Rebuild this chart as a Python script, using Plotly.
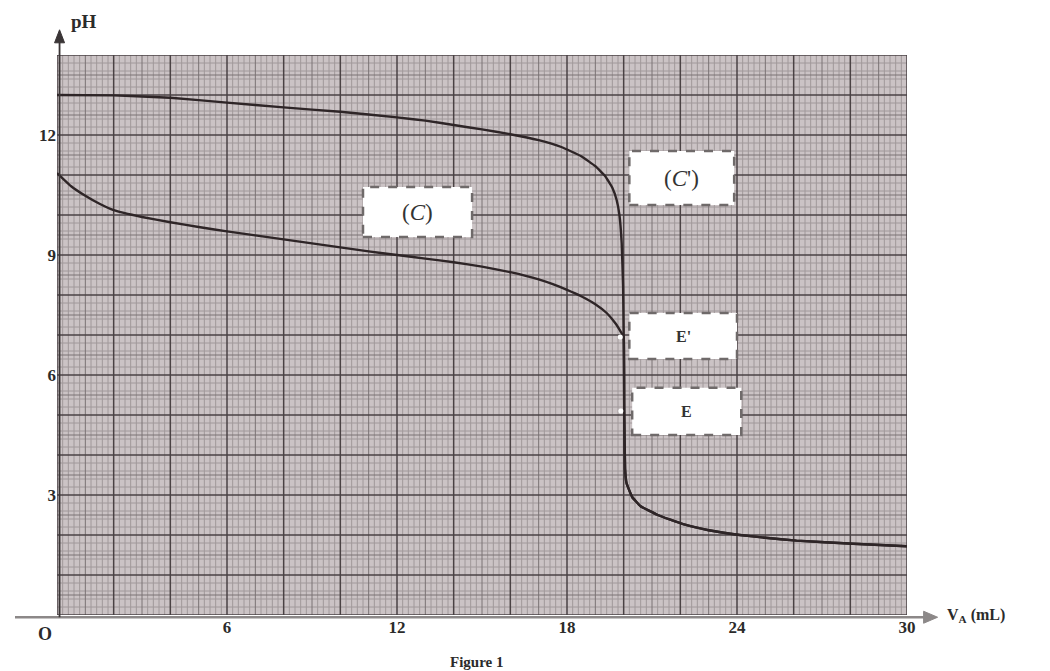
import plotly.graph_objects as go

# ---- data ----
V_C = [0, 0.5, 1.0, 1.5, 2.0, 3.0, 4.0, 5.0, 6.0, 7.0, 8.0, 9.0, 10.0, 11.0, 12.0,
       13.0, 14.0, 15.0, 16.0, 17.0, 17.5, 18.0, 18.5, 19.0, 19.4, 19.7, 19.9, 20.0]
pH_C = [11.05, 10.72, 10.48, 10.28, 10.12, 9.95, 9.82, 9.7, 9.59, 9.49, 9.39, 9.29, 9.19, 9.09, 9.0,
        8.91, 8.82, 8.71, 8.57, 8.39, 8.27, 8.13, 7.97, 7.77, 7.55, 7.3, 7.08, 6.95]

V_Cp = [0, 2.0, 4.0, 6.0, 8.0, 10.0, 12.0, 13.0, 14.0, 15.0, 16.0, 17.0, 17.8, 18.5, 19.0,
        19.35, 19.6, 19.75, 19.85, 19.93, 19.98, 20.0]
pH_Cp = [13.0, 12.99, 12.93, 12.81, 12.69, 12.58, 12.44, 12.36, 12.25, 12.14, 12.02, 11.87, 11.7, 11.47, 11.22,
         10.97, 10.68, 10.38, 10.0, 9.3, 8.2, 6.95]

V_after = [20.0, 20.02, 20.05, 20.1, 20.3, 20.6, 21.2, 22.1, 23.0, 24.1, 25.0, 26.1, 28.1, 30.0]
pH_after = [6.95, 5.1, 3.65, 3.3, 2.95, 2.72, 2.5, 2.27, 2.12, 2.0, 1.93, 1.86, 1.78, 1.72]

E_points_V = [20.0, 20.02]
E_points_pH = [6.95, 5.1]

x_ticks = [6, 12, 18, 24, 30]
y_ticks = [3, 6, 9, 12]

labels = ["(<i>C</i>)", "(<i>C</i>')", "<b>E'</b>", "<b>E</b>"]
label_boxes = [(10.8, 14.65, 9.45, 10.7), (20.2, 23.9, 10.25, 11.6),
               (20.2, 24.0, 6.4, 7.55), (20.3, 24.15, 4.5, 5.68)]
label_sizes = [23, 23, 16, 16]

XMAX, YMAX = 30, 14
PW, PH = 850, 560  # plot area size in pixels (for arrow heads)

fig = go.Figure()


def grid_trace(vals_x, vals_y, color, width):
    xs, ys = [], []
    for v in vals_x:
        xs += [v, v, None]
        ys += [0, YMAX, None]
    for v in vals_y:
        xs += [0, XMAX, None]
        ys += [v, v, None]
    return go.Scatter(x=xs, y=ys, mode="lines", line=dict(color=color, width=width),
                      hoverinfo="skip", showlegend=False)


fine_x = [i * 0.2 for i in range(0, 151) if i % 5 != 0]
fine_y = [i * 0.2 for i in range(0, 71) if i % 5 != 0]
mid_x = [i for i in range(1, 30, 2)]
mid_y = [i + 0.5 for i in range(0, 14)]
maj_x = [i for i in range(0, 31, 2)]
maj_y = [i for i in range(0, 15)]

fig.add_trace(grid_trace(fine_x, fine_y, "#a0989a", 1))
fig.add_trace(grid_trace(mid_x, mid_y, "#7a7274", 1))
fig.add_trace(grid_trace(maj_x, maj_y, "#4a4244", 1.5))

curve_color = "#2e2527"
fig.add_trace(go.Scatter(x=V_C + V_after[1:], y=pH_C + pH_after[1:], mode="lines",
                         line=dict(color=curve_color, width=2.4, shape="spline", smoothing=0.3),
                         showlegend=False))
fig.add_trace(go.Scatter(x=V_Cp + V_after[1:], y=pH_Cp + pH_after[1:], mode="lines",
                         line=dict(color=curve_color, width=2.4, shape="spline", smoothing=0.3),
                         showlegend=False))
fig.add_trace(go.Scatter(x=[v - 0.12 for v in E_points_V], y=E_points_pH, mode="markers",
                         marker=dict(color="white", size=5, line=dict(width=0)),
                         showlegend=False))

shapes = []
annotations = []
for (x0, x1, y0, y1), txt, sz in zip(label_boxes, labels, label_sizes):
    shapes.append(dict(type="rect", xref="x", yref="y", x0=x0, x1=x1, y0=y0, y1=y1,
                       fillcolor="white", line=dict(color="#6f6a6a", width=2.5, dash="dash"),
                       layer="above"))
    annotations.append(dict(x=(x0 + x1) / 2, y=(y0 + y1) / 2, xref="x", yref="y", text=txt,
                            showarrow=False,
                            font=dict(family="Liberation Serif", size=sz, color="#333")))

# axis lines with arrow heads (paper coordinates)
xa_tip, xa_y = 1.036, -0.004
shapes.append(dict(type="line", xref="paper", yref="paper", x0=-42 / PW, x1=xa_tip - 4 / PW,
                   y0=xa_y, y1=xa_y, line=dict(color="#8c8888", width=2.6), layer="above"))
shapes.append(dict(type="path", xref="paper", yref="paper",
                   path="M %f %f L %f %f L %f %f Z" % (xa_tip, xa_y,
                                                       xa_tip - 14 / PW, xa_y + 6 / PH,
                                                       xa_tip - 14 / PW, xa_y - 6 / PH),
                   fillcolor="#8c8888", line=dict(color="#8c8888", width=1), layer="above"))
ya_x, ya_tip = 0.003, 1.045
shapes.append(dict(type="line", xref="paper", yref="paper", x0=ya_x, x1=ya_x,
                   y0=-0.004, y1=ya_tip - 4 / PH, line=dict(color="#3a3536", width=1.8), layer="above"))
shapes.append(dict(type="path", xref="paper", yref="paper",
                   path="M %f %f L %f %f L %f %f Z" % (ya_x, ya_tip,
                                                       ya_x - 5 / PW, ya_tip - 13 / PH,
                                                       ya_x + 5 / PW, ya_tip - 13 / PH),
                   fillcolor="#3a3536", line=dict(color="#3a3536", width=1), layer="above"))

annotations.append(dict(xref="paper", yref="paper", x=0.014, y=1.06, xanchor="left", yanchor="middle",
                        text="<b>pH</b>", showarrow=False,
                        font=dict(family="Liberation Serif", size=19, color="#2b2b2b")))
annotations.append(dict(xref="paper", yref="paper", x=1.045, y=0.0, xanchor="left", yanchor="middle",
                        text="<b>V<sub>A</sub> (mL)</b>", showarrow=False,
                        font=dict(family="Liberation Serif", size=16, color="#2b2b2b")))
annotations.append(dict(xref="paper", yref="paper", x=-0.004, y=-0.012, xanchor="right", yanchor="top",
                        text="<b>O</b>", showarrow=False,
                        font=dict(family="Liberation Serif", size=18, color="#2b2b2b")))
annotations.append(dict(xref="paper", yref="paper", x=0.494, y=-0.066, xanchor="center", yanchor="top",
                        text="<b>Figure 1</b>", showarrow=False,
                        font=dict(family="Liberation Serif", size=15, color="#2b2b2b")))

fig.update_layout(
    width=1050, height=671,
    margin=dict(l=57, r=143, t=55, b=56),
    paper_bgcolor="white",
    plot_bgcolor="#cbc3c5",
    shapes=shapes,
    annotations=annotations,
    xaxis=dict(range=[0, XMAX], tickvals=x_ticks, ticktext=["<b>%d</b>" % t for t in x_ticks],
               showgrid=False, zeroline=False, showline=False, ticks="",
               tickfont=dict(family="Liberation Serif", size=17, color="#2b2b2b"),
               fixedrange=True),
    yaxis=dict(range=[0, YMAX], tickvals=y_ticks, ticktext=["<b>%d</b>" % t for t in y_ticks],
               showgrid=False, zeroline=False, showline=False, ticks="",
               tickfont=dict(family="Liberation Serif", size=17, color="#2b2b2b"),
               fixedrange=True),
    font=dict(family="Liberation Serif"),
)

fig.write_html("out.html")
